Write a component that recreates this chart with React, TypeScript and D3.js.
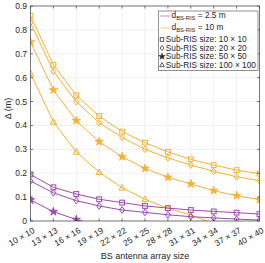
import React from "react";
import * as d3 from "d3";

const categories = ["10 × 10", "13 × 13", "16 × 16", "19 × 19", "22 × 22", "25 × 25", "28 × 28", "31 × 31", "34 × 34", "37 × 37", "40 × 40"];
const yTicks = [0, 0.1, 0.2, 0.3, 0.4, 0.5, 0.6, 0.7, 0.8, 0.9];

// d_BS-RIS = 10 m
const far10 = [0.859, 0.654, 0.526, 0.439, 0.374, 0.328, 0.289, 0.258, 0.234, 0.213, 0.198];
const far20 = [0.83, 0.626, 0.499, 0.411, 0.35, 0.30, 0.264, 0.234, 0.208, 0.185, 0.169];
const far50 = [0.749, 0.548, 0.42, 0.332, 0.269, 0.22, 0.183, 0.155, 0.127, 0.106, 0.089];
const far100 = [0.618, 0.415, 0.289, 0.204, 0.139, 0.091, 0.053, 0.025, -0.011, -0.04, -0.06];
// d_BS-RIS = 2.5 m
const near10 = [0.195, 0.141, 0.113, 0.091, 0.077, 0.063, 0.054, 0.046, 0.04, 0.035, 0.029];
const near20 = [0.167, 0.118, 0.085, 0.063, 0.046, 0.036, 0.026, 0.018, 0.013, 0.008, 0.004];
const near50 = [0.088, 0.039, 0.006, -0.02, -0.04, -0.055, -0.065, -0.075, -0.082, -0.088, -0.093];

const PURPLE = "#9a4cb0";
const ORANGE = "#f2b233";

type Series = { values: number[]; color: string; marker: string };
const series: Series[] = [
  { values: far10, color: ORANGE, marker: "square" },
  { values: far20, color: ORANGE, marker: "diamond" },
  { values: far50, color: ORANGE, marker: "star" },
  { values: far100, color: ORANGE, marker: "triangle" },
  { values: near10, color: PURPLE, marker: "square" },
  { values: near20, color: PURPLE, marker: "diamond" },
  { values: near50, color: PURPLE, marker: "star" },
];

const W = 265, H = 263;
const L = 30.5, R = 259.5, T = 6, B = 221;

function Marker({ type, x, y, color }: { type: string; x: number; y: number; color: string }) {
  if (type === "square") {
    return <rect x={x - 2.4} y={y - 2.4} width={4.8} height={4.8} fill="none" stroke={color} strokeWidth={1} />;
  }
  if (type === "diamond") {
    return <path d={`M${x},${y - 3.3}L${x + 2.5},${y}L${x},${y + 3.3}L${x - 2.5},${y}Z`} fill="none" stroke={color} strokeWidth={1} />;
  }
  if (type === "triangle") {
    return <path d={`M${x},${y - 3.3}L${x + 3.1},${y + 2.3}L${x - 3.1},${y + 2.3}Z`} fill="none" stroke={color} strokeWidth={1} />;
  }
  const star = d3.symbol().type(d3.symbolStar).size(22)();
  return <path d={star || ""} transform={`translate(${x},${y})`} fill={color} stroke={color} strokeWidth={0.8} />;
}

export default function App() {
  const x = d3.scalePoint<string>().domain(categories).range([L, R]);
  const y = d3.scaleLinear().domain([0, 0.9]).range([B, T]);
  const line = d3.line<number>().x((_, i) => x(categories[i])!).y((v) => y(v));
  const font = "'Liberation Sans', Arial, sans-serif";

  const legendRows = [
    { t: "Sub-RIS size: 10 × 10", m: "square", yy: 39.5 },
    { t: "Sub-RIS size: 20 × 20", m: "diamond", yy: 48 },
    { t: "Sub-RIS size: 50 × 50", m: "star", yy: 56.5 },
    { t: "Sub-RIS size: 100 × 100", m: "triangle", yy: 65 },
  ];

  return (
    <svg width={W} height={H} style={{ position: "absolute", left: 0, top: 0, background: "#fff" }} fontFamily={font}>
      <defs>
        <clipPath id="plot">
          <rect x={L} y={T} width={R - L} height={B - T} />
        </clipPath>
      </defs>
      {/* grid */}
      {categories.map((c) => (
        <line key={c} x1={x(c)} x2={x(c)} y1={T} y2={B} stroke="#e6e6e6" strokeWidth={0.6} />
      ))}
      {yTicks.map((t) => (
        <line key={t} x1={L} x2={R} y1={y(t)} y2={y(t)} stroke="#e6e6e6" strokeWidth={0.6} />
      ))}
      {/* series */}
      <g clipPath="url(#plot)">
        {series.map((s, si) => (
          <g key={si}>
            <path d={line(s.values) || ""} fill="none" stroke={s.color} strokeWidth={1} />
            {s.values.map((v, i) => (v >= 0 ? <Marker key={i} type={s.marker} x={x(categories[i])!} y={y(v)} color={s.color} /> : null))}
          </g>
        ))}
      </g>
      {/* box */}
      <rect x={L} y={T} width={R - L} height={B - T} fill="none" stroke="#262626" strokeWidth={0.6} />
      {/* y ticks */}
      {yTicks.map((t) => (
        <g key={t}>
          <line x1={L} x2={L + 2.5} y1={y(t)} y2={y(t)} stroke="#262626" strokeWidth={0.6} />
          <line x1={R} x2={R - 2.5} y1={y(t)} y2={y(t)} stroke="#262626" strokeWidth={0.6} />
          <text x={L - 3.5} y={y(t)} dy="0.35em" textAnchor="end" fontSize={8.5} fill="#262626">
            {t === 0 ? "0" : t.toFixed(1)}
          </text>
        </g>
      ))}
      {/* x ticks */}
      {categories.map((c) => (
        <g key={c}>
          <line x1={x(c)} x2={x(c)} y1={B} y2={B - 2.5} stroke="#262626" strokeWidth={0.6} />
          <line x1={x(c)} x2={x(c)} y1={T} y2={T + 2.5} stroke="#262626" strokeWidth={0.6} />
          <text transform={`translate(${x(c)! + 2},${B + 6}) rotate(-30)`} textAnchor="end" dy="0.7em" fontSize={8.5} fill="#262626">
            {c}
          </text>
        </g>
      ))}
      {/* axis labels */}
      <text x={(L + R) / 2} y={259} textAnchor="middle" fontSize={9} fill="#262626">BS antenna array size</text>
      <text transform={`translate(11,${(T + B) / 2 - 5}) rotate(-90)`} textAnchor="middle" fontSize={9} fill="#262626">Δ (m)</text>
      {/* legend */}
      <rect x={158.5} y={11} width={99.5} height={59.5} fill="#fff" stroke="#262626" strokeWidth={0.5} />
      <line x1={160} x2={170.5} y1={16} y2={16} stroke="#cba6dc" strokeWidth={1.2} />
      <text x={171.5} y={17.5} fontSize={8.3} fill="#262626">
        d<tspan fontSize={5.8} dy={2.5}>BS-RIS</tspan><tspan dy={-2.5}> = 2.5 m</tspan>
      </text>
      <line x1={160} x2={170.5} y1={28} y2={28} stroke="#f7d98e" strokeWidth={1.2} />
      <text x={171.5} y={29.5} fontSize={8.3} fill="#262626">
        d<tspan fontSize={5.8} dy={2.5}>BS-RIS</tspan><tspan dy={-2.5}> = 10 m</tspan>
      </text>
      {legendRows.map((r) => (
        <g key={r.t}>
          <g transform={`translate(162,${r.yy}) scale(0.75) translate(-162,${-r.yy})`}>
            <Marker type={r.m} x={162} y={r.yy} color="#262626" />
          </g>
          <text x={165.8} y={r.yy} dy="0.35em" fontSize={8.3} fill="#262626">{r.t}</text>
        </g>
      ))}
    </svg>
  );
}
